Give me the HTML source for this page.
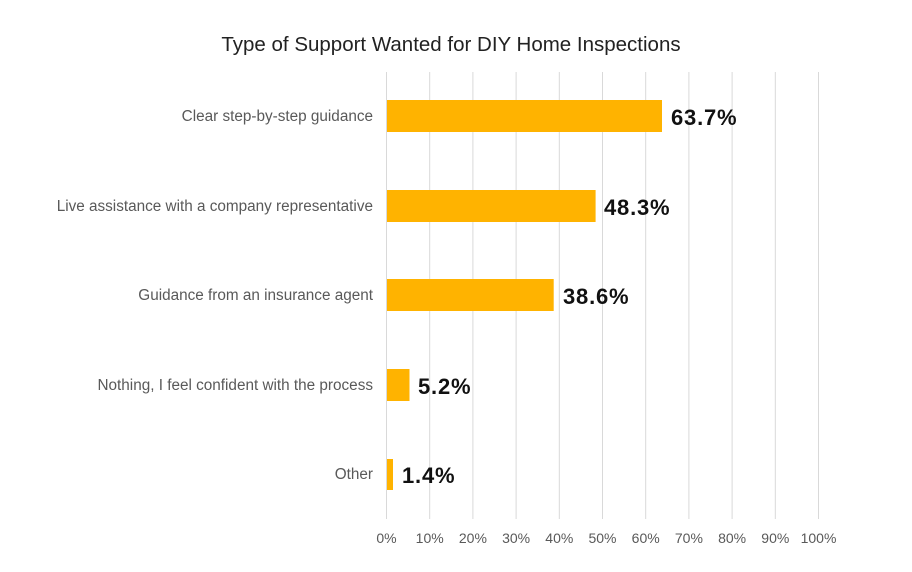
<!DOCTYPE html>
<html><head><style>body{margin:0;background:#fff}svg{display:block}</style></head><body>
<svg width="912" height="572" xmlns="http://www.w3.org/2000/svg" font-family="Liberation Sans, sans-serif">
<rect width="912" height="572" fill="#fff"/>
<text x="451" y="51" text-anchor="middle" font-size="20.5" fill="#222">Type of Support Wanted for DIY Home Inspections</text>
<g stroke="#d9d9d9" stroke-width="1">
<line x1="386.5" y1="72" x2="386.5" y2="519"/><line x1="429.7" y1="72" x2="429.7" y2="519"/><line x1="472.9" y1="72" x2="472.9" y2="519"/><line x1="516.1" y1="72" x2="516.1" y2="519"/><line x1="559.3" y1="72" x2="559.3" y2="519"/><line x1="602.5" y1="72" x2="602.5" y2="519"/><line x1="645.7" y1="72" x2="645.7" y2="519"/><line x1="688.9" y1="72" x2="688.9" y2="519"/><line x1="732.1" y1="72" x2="732.1" y2="519"/><line x1="775.3" y1="72" x2="775.3" y2="519"/><line x1="818.5" y1="72" x2="818.5" y2="519"/>
</g>
<g font-size="14" fill="#595959" text-anchor="middle">
<text x="386.5" y="543">0%</text><text x="429.7" y="543">10%</text><text x="472.9" y="543">20%</text><text x="516.1" y="543">30%</text><text x="559.3" y="543">40%</text><text x="602.5" y="543">50%</text><text x="645.7" y="543">60%</text><text x="688.9" y="543">70%</text><text x="732.1" y="543">80%</text><text x="775.3" y="543">90%</text><text x="818.5" y="543">100%</text>
</g>
<g fill="#ffb300">
<rect x="387" y="100" width="275" height="32"/>
<rect x="387" y="190" width="208.6" height="32"/>
<rect x="387" y="279" width="166.7" height="32"/>
<rect x="387" y="369" width="22.5" height="32"/>
<rect x="387" y="459" width="6" height="31"/>
</g>
<g font-size="15.3" fill="#595959" text-anchor="end">
<text x="373" y="121">Clear step-by-step guidance</text>
<text x="373" y="211">Live assistance with a company representative</text>
<text x="373" y="300">Guidance from an insurance agent</text>
<text x="373" y="390">Nothing, I feel confident with the process</text>
<text x="373" y="479">Other</text>
</g>
<g font-size="22" font-weight="bold" fill="#111" letter-spacing="0.8">
<text x="671" y="125">63.7%</text>
<text x="604" y="215">48.3%</text>
<text x="563" y="304">38.6%</text>
<text x="418" y="394">5.2%</text>
<text x="402" y="483">1.4%</text>
</g>
</svg>
</body></html>
